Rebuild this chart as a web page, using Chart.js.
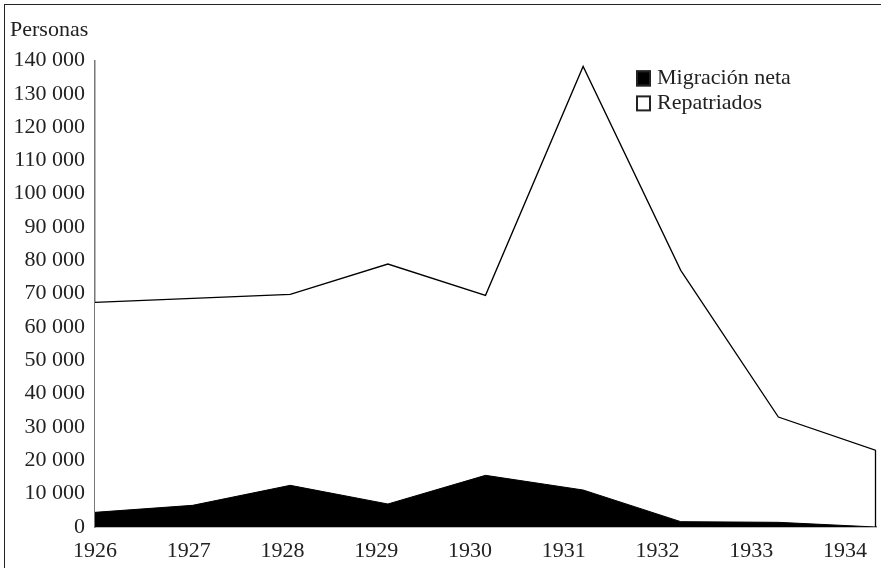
<!DOCTYPE html>
<html>
<head>
<meta charset="utf-8">
<script src="https://cdn.jsdelivr.net/npm/chart.js@4.4.1/dist/chart.umd.min.js"></script>
<style>
    body { margin: 0; background: #fff; }
    #wrap { position: relative; width: 881px; height: 568px; }
    #frame { position: absolute; left: 4px; top: 4px; right: 0; bottom: 0; border-left: 1.5px solid #222; border-top: 1.5px solid #222; pointer-events: none; }
</style>
</head>
<body>
<div id="wrap">
    <canvas id="myChart" width="881" height="568"></canvas>
    <div id="frame"></div>
</div>
<script>
const years = [1926, 1927, 1928, 1929, 1930, 1931, 1932, 1933, 1934];
const migracion_neta = [4400, 6500, 12500, 6900, 15500, 11100, 1600, 1400, 0];
const repatriados = [67400, 68600, 69800, 78900, 69500, 138200, 77000, 33000, 23000];
const y_ticks = [0, 10000, 20000, 30000, 40000, 50000, 60000, 70000, 80000, 90000, 100000, 110000, 120000, 130000, 140000];

const font_family = "'Liberation Serif', 'DejaVu Serif', serif";
Chart.defaults.font.family = font_family;
Chart.defaults.color = "#222";

function fmt(v) {
    return String(v).replace(/\B(?=(\d{3})+(?!\d))/g, " ");
}

// leyenda dibujada dentro del área
const boxLegend = {
    id: "boxLegend",
    afterDraw(chart) {
        const ctx = chart.ctx;
        const area = chart.chartArea;
        let x = area.left + 541;
        let y = area.top + 10;
        ctx.save();
        ctx.font = "22px " + font_family;
        ctx.textBaseline = "middle";
        chart.data.datasets.forEach((ds) => {
            ctx.fillStyle = ds.backgroundColor;
            ctx.fillRect(x, y, 15, 16);
            ctx.strokeStyle = "#222";
            ctx.lineWidth = 2;
            ctx.strokeRect(x + 1, y + 1, 13, 14);
            ctx.fillStyle = "#222";
            ctx.fillText(ds.label, x + 21, y + 8);
            y += 25;
        });
        ctx.restore();
    }
};

// borde vertical al final del área de repatriados
const edgeLine = {
    id: "edgeLine",
    afterDatasetsDraw(chart) {
        const ctx = chart.ctx;
        const xs = chart.scales.x, ys = chart.scales.y;
        const last = years.length - 1;
        const px = xs.getPixelForValue(years[last]);
        ctx.save();
        ctx.strokeStyle = "#000";
        ctx.lineWidth = 1.3;
        ctx.beginPath();
        ctx.moveTo(px - 0.5, ys.getPixelForValue(repatriados[last]));
        ctx.lineTo(px - 0.5, ys.getPixelForValue(0));
        ctx.stroke();
        ctx.restore();
    }
};

const ctx = document.getElementById("myChart");
const config = {
    type: "line",
    data: {
        datasets: [
            {
                label: "Migración neta",
                data: years.map((yr, i) => ({x: yr, y: migracion_neta[i]})),
                backgroundColor: "#000",
                borderColor: "#000",
                borderWidth: 1,
                fill: "origin",
                pointRadius: 0,
                tension: 0,
            },
            {
                label: "Repatriados",
                data: years.map((yr, i) => ({x: yr, y: repatriados[i]})),
                backgroundColor: "#fff",
                borderColor: "#000",
                borderWidth: 1.3,
                fill: "origin",
                pointRadius: 0,
                tension: 0,
            }
        ]
    },
    options: {
        responsive: false,
        animation: false,
        layout: {
            padding: {left: 10, right: 5, top: 0, bottom: 9}
        },
        plugins: {
            legend: {display: false},
            tooltip: {enabled: false},
            title: {
                display: true,
                text: "Personas",
                align: "start",
                font: {size: 22, weight: "normal"},
                color: "#222",
                padding: {top: 17, bottom: 17},
            }
        },
        scales: {
            x: {
                type: "linear",
                display: false,
                min: 1926,
                max: 1934,
            },
            xl: {
                type: "linear",
                position: "bottom",
                min: 1926,
                max: 1934.33,
                grid: {display: false},
                border: {display: true, color: "#777", width: 1.5},
                afterFit(scale) { scale.height = 32; },
                ticks: {
                    stepSize: 1,
                    includeBounds: false,
                    maxRotation: 0,
                    autoSkip: false,
                    padding: 3,
                    font: {size: 22},
                    callback: (v) => Number.isInteger(v) ? String(v) : "",
                }
            },
            y: {
                min: 0,
                max: 140000,
                grid: {display: false},
                border: {display: true, color: "#777", width: 1.5},
                afterFit(scale) { scale.width = 85; },
                afterBuildTicks(scale) { scale.ticks = y_ticks.map(v => ({value: v})); },
                ticks: {
                    padding: 2,
                    font: {size: 22},
                    callback: (v) => fmt(v),
                }
            }
        }
    },
    plugins: [boxLegend, edgeLine],
};
const chart = new Chart(ctx, config);
</script>
</body>
</html>
